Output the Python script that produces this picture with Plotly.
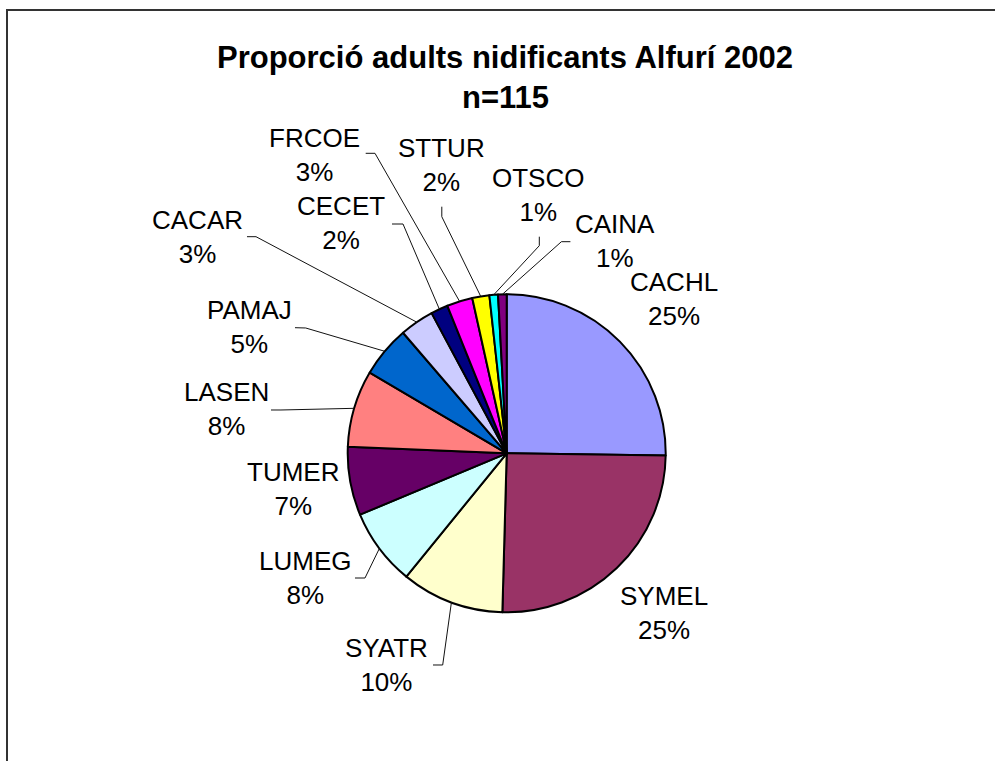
import numpy as np
import plotly.graph_objects as go

# ---- data ----
species = ["CACHL", "SYMEL", "SYATR", "LUMEG", "TUMER", "LASEN", "PAMAJ",
           "CACAR", "CECET", "FRCOE", "STTUR", "OTSCO", "CAINA"]
counts = [29, 29, 12, 9, 8, 9, 6, 4, 2, 3, 2, 1, 1]
colors = ["#9999FF", "#993366", "#FFFFCC", "#CCFFFF", "#660066", "#FF8080",
          "#0066CC", "#CCCCFF", "#000080", "#FF00FF", "#FFFF00", "#00FFFF",
          "#800080"]
title_lines = ["Proporció adults nidificants Alfurí 2002", "n=115"]

# ---- layout (pixels) ----
W, H = 995, 761
CX, CY, R = 506.7, 453.3, 159.0
label_pos = {  # centre of each two-line label block
    "CACHL": (674, 299), "SYMEL": (664, 613), "SYATR": (386, 665),
    "LUMEG": (305, 578), "TUMER": (293, 489), "LASEN": (226, 409),
    "PAMAJ": (250, 327), "CACAR": (197, 236.5), "CECET": (341, 223),
    "FRCOE": (314, 154.5), "STTUR": (441, 165), "OTSCO": (538, 195),
    "CAINA": (615, 241),
}
leader = {  # start point, elbow point (the end lies on the slice edge)
    "CAINA": [(570.4, 241.7), (561.4, 241.7)],
    "OTSCO": [(539.3, 236.7), (539.3, 245.7)],
    "STTUR": [(441.8, 206.7), (441.8, 216.7)],
    "FRCOE": [(365.7, 153.3), (375.0, 153.3)],
    "CECET": [(392.0, 224.0), (403.0, 224.0)],
    "CACAR": [(247.0, 236.7), (256.0, 236.7)],
    "PAMAJ": [(295.0, 327.7), (305.7, 328.0)],
    "LASEN": [(271.0, 410.0), (281.0, 410.0)],
    "LUMEG": [(355.0, 578.0), (365.0, 578.0)],
    "SYATR": [(433.0, 665.0), (442.7, 665.0)],
}


def px(x, y):
    return x / W, 1 - y / H


total = sum(counts)
fr = np.array(counts) / total
mid = (np.cumsum(fr) - fr / 2) * 2 * np.pi  # clockwise from 12 o'clock

fig = go.Figure(go.Pie(
    labels=species, values=counts, sort=False, direction="clockwise",
    rotation=0, textinfo="none", hoverinfo="label+value+percent",
    marker=dict(colors=colors, line=dict(color="black", width=2)),
    domain=dict(x=[(CX - R) / W, (CX + R) / W],
                y=[1 - (CY + R) / H, 1 - (CY - R) / H]),
    showlegend=False,
))

annotations = []
shapes = []
font_lbl = dict(family="Liberation Sans, Arial, sans-serif", size=26, color="black")
for i, name in enumerate(species):
    lx, ly = label_pos[name]
    pct = f"{fr[i]:.0%}"
    ax, ay = px(lx, ly)
    annotations.append(dict(x=ax, y=ay, xref="paper", yref="paper",
                            text=f"{name}<br>{pct}", showarrow=False,
                            xanchor="center", yanchor="middle", align="center",
                            font=font_lbl))
    if name in leader:
        ex = CX + R * np.sin(mid[i])
        ey = CY - R * np.cos(mid[i])
        pts = leader[name] + [(ex, ey)]
        path = "M " + " L ".join(f"{px(x, y)[0]:.5f},{px(x, y)[1]:.5f}" for x, y in pts)
        shapes.append(dict(type="path", xref="paper", yref="paper", path=path,
                           line=dict(color="#111111", width=1)))

font_title = dict(family="Liberation Sans, Arial, sans-serif", size=31,
                  color="black", weight="bold")
for text, yy in zip(title_lines, [57, 97]):
    tx, ty = px(505, yy)
    annotations.append(dict(x=tx, y=ty, xref="paper", yref="paper", text=text,
                            showarrow=False, xanchor="center", yanchor="middle",
                            font=font_title))

# chart-area frame
x0, y1 = px(7, 10)
shapes.append(dict(type="rect", xref="paper", yref="paper", x0=x0, y0=-0.05,
                   x1=1.05, y1=y1, line=dict(color="#333333", width=2),
                   fillcolor="rgba(0,0,0,0)"))

fig.update_layout(width=W, height=H, margin=dict(l=0, r=0, t=0, b=0),
                  paper_bgcolor="white", plot_bgcolor="white",
                  annotations=annotations, shapes=shapes)

fig.write_html("out.html", config={"displayModeBar": False},
               post_script="document.body.style.margin='0';document.body.style.overflow='hidden';")
